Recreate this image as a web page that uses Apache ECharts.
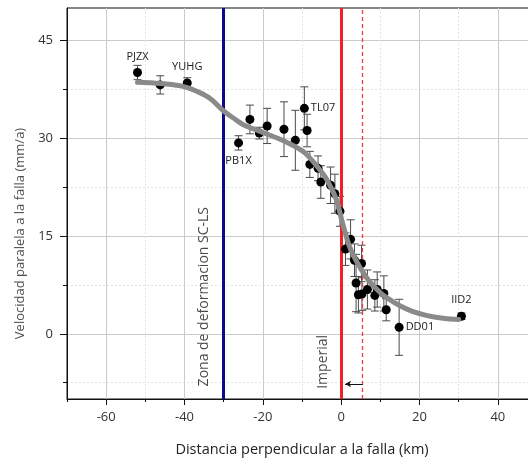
<!DOCTYPE html>
<html><head><meta charset="utf-8">
<script src="https://cdn.jsdelivr.net/npm/echarts@6/dist/echarts.min.js"></script>
<style>html,body{margin:0;padding:0;background:#fff}#c{width:528px;height:461px}</style>
</head><body><div id="c"></div>
<script>
// Station data: distance to fault (km), fault-parallel velocity (mm/a), 1-sigma error
const stationX   = [-52.0, -46.2, -39.3, -26.2, -23.3, -20.9, -18.9, -14.6, -11.7, -9.4, -8.7, -8.0, -5.9, -5.2, -2.7, -1.6, -0.3, 1.1, 2.4, 3.4, 5.2, 3.8, 4.4, 5.3, 6.7, 8.6, 9.2, 10.9, 11.5, 14.8, 30.7];
const stationV   = [40.1, 38.2, 38.5, 29.3, 32.9, 30.8, 31.9, 31.4, 29.7, 34.6, 31.2, 26.0, 25.4, 23.3, 22.8, 21.5, 18.8, 13.0, 14.5, 11.3, 10.8, 7.8, 6.0, 6.1, 6.8, 5.9, 6.8, 6.2, 3.7, 1.0, 2.7];
const stationErr = [1.1, 1.4, 0.8, 1.1, 2.2, 0.9, 2.7, 4.2, 4.6, 3.3, 2.5, 2.0, 1.9, 2.5, 2.8, 3.0, 2.3, 2.5, 3.0, 2.5, 2.8, 4.4, 2.8, 2.5, 3.0, 2.4, 2.7, 2.7, 1.7, 4.3, 0.5];
const stationName = ['PJZX', '', 'YUHG', 'PB1X', '', '', '', '', '', 'TL07', '', '', '', '', '', '', '', '', '', '', '', '', '', '', '', '', '', '', '', 'DD01', 'IID2'];
const labelPos   = {PJZX: 'top', YUHG: 'top', PB1X: 'bottom', TL07: 'right', DD01: 'right', IID2: 'top'};

// Fitted model curve
const curveX = [-52, -46, -40, -35, -33, -30, -27, -25, -20, -15, -10, -8, -6, -4, -2, -1, 0, 1, 2, 3, 5, 7, 10, 12, 15, 18, 22, 26, 30];
const curveV = [38.6, 38.4, 37.9, 36.7, 35.9, 34.2, 32.9, 32.1, 30.9, 29.7, 28.1, 27.0, 25.6, 24.0, 21.7, 20.2, 17.8, 15.6, 13.6, 12.2, 10.0, 8.2, 6.3, 5.4, 4.3, 3.5, 2.8, 2.4, 2.2];

// Axis ticks
const xMajorTicks = [-60, -40, -20, 0, 20, 40];
const xMinorTicks = [-70, -50, -30, -10, 10, 30, 50];
const yMajorTicks = [0, 15, 30, 45];
const yMinorTicks = [-7.5, 7.5, 22.5, 37.5];

// Reference lines
const zoneX = -30;       // SC-LS deformation zone
const faultX = 0;        // Imperial fault
const shiftedFaultX = 5.5;
const arrowFromTo = [5.5, 1.0];
const arrowV = -7.7;

// In-plot annotations [x, v, text]
const annotations = [
  [-35.0, 5.7, 'Zona de deformacion SC-LS'],
  [-4.6, -4.3, 'Imperial']
];
// Axis titles
const xTitle = 'Distancia perpendicular a la falla (km)';
const yTitle = 'Velocidad paralela a la falla (mm/a)';
const yTitleAnchor = [-82, 15.4];

const FONT = 'Open Sans';
const chart = echarts.init(document.getElementById('c'));

const lines = [];
lines.push({xAxis: zoneX, lineStyle: {color: '#0a0a8c', width: 3, type: 'solid'}});
lines.push({xAxis: faultX, lineStyle: {color: '#ec2227', width: 3, type: 'solid'}});
lines.push({xAxis: shiftedFaultX, lineStyle: {color: '#f03a3f', width: 1.3, type: [4, 3]}});
lines.push([
  {coord: [arrowFromTo[0], arrowV], symbol: 'none', lineStyle: {color: '#111', width: 1, type: 'solid'}},
  {coord: [arrowFromTo[1], arrowV], symbol: 'arrow', symbolSize: [5, 6]}
]);

const baseX = {type: 'value', min: -70, max: 50, position: 'bottom'};
const baseY = {type: 'value', min: -10, max: 50, position: 'left'};

chart.setOption({
  animation: false,
  backgroundColor: '#fff',
  grid: {left: 67, width: 470, top: 8, height: 391, outerBoundsMode: 'none', containLabel: false,
         show: true, borderColor: '#111', borderWidth: 1, backgroundColor: 'transparent'},
  xAxis: [
    Object.assign({}, baseX, {
      name: xTitle, nameLocation: 'middle', nameGap: 43,
      nameTextStyle: {fontFamily: FONT, fontSize: 14.5, color: '#222'},
      axisLine: {show: true, onZero: false, lineStyle: {color: '#111', width: 1}},
      axisTick: {show: true, inside: false, length: 6, customValues: xMajorTicks, lineStyle: {color: '#111'}},
      axisLabel: {show: true, customValues: xMajorTicks, margin: 12, fontFamily: FONT, fontSize: 13, color: '#333'},
      splitLine: {show: true, lineStyle: {color: '#cbcbcb', width: 1, type: 'solid'}}
    }),
    Object.assign({}, baseX, {
      axisLine: {show: false, onZero: false},
      axisTick: {show: true, inside: false, length: 3, customValues: xMinorTicks, lineStyle: {color: '#111'}},
      axisLabel: {show: false},
      splitLine: {show: true, lineStyle: {color: '#e4e4e4', width: 1, type: [2, 2]}}
    })
  ],
  yAxis: [
    Object.assign({}, baseY, {
      axisLine: {show: true, onZero: false, lineStyle: {color: '#111', width: 1}},
      axisTick: {show: true, inside: false, length: 7, customValues: yMajorTicks, lineStyle: {color: '#111'}},
      axisLabel: {show: true, customValues: yMajorTicks, margin: 14, fontFamily: FONT, fontSize: 13, color: '#333'},
      splitLine: {show: true, lineStyle: {color: '#cbcbcb', width: 1, type: 'solid'}}
    }),
    Object.assign({}, baseY, {
      axisLine: {show: false, onZero: false},
      axisTick: {show: true, inside: false, length: 4, customValues: yMinorTicks, lineStyle: {color: '#111'}},
      axisLabel: {show: false},
      splitLine: {show: true, lineStyle: {color: '#e4e4e4', width: 1, type: [2, 2]}}
    })
  ],
  series: [
    {
      type: 'line', data: [], silent: true, z: 3,
      markLine: {silent: true, symbol: 'none', label: {show: false}, animation: false, data: lines}
    },
    {
      type: 'custom', z: 4, silent: true,
      data: stationX.map((x, i) => [x, stationV[i] - stationErr[i], stationV[i] + stationErr[i]]),
      encode: {x: 0, y: [1, 2]},
      renderItem: function (params, api) {
        const x = api.value(0);
        const p1 = api.coord([x, api.value(1)]);
        const p2 = api.coord([x, api.value(2)]);
        const w = 4;
        const st = {stroke: '#4a4a4a', lineWidth: 1};
        return {type: 'group', children: [
          {type: 'line', shape: {x1: p1[0], y1: p1[1], x2: p2[0], y2: p2[1]}, style: st},
          {type: 'line', shape: {x1: p1[0] - w, y1: p1[1], x2: p1[0] + w, y2: p1[1]}, style: st},
          {type: 'line', shape: {x1: p2[0] - w, y1: p2[1], x2: p2[0] + w, y2: p2[1]}, style: st}
        ]};
      }
    },
    {
      type: 'scatter', z: 5, symbol: 'circle', symbolSize: 9,
      itemStyle: {color: '#000', opacity: 1},
      data: stationX.map((x, i) => {
        const n = stationName[i];
        const item = {value: [x, stationV[i]], name: n};
        if (n) {
          const pos = labelPos[n];
          item.label = {show: true, formatter: n, position: pos,
            distance: pos === 'bottom' ? 8 : (pos === 'right' ? 2 : 6),
            fontFamily: FONT, fontSize: 11, color: '#222'};
        }
        return item;
      })
    },
    {
      type: 'line', z: 6, smooth: 0.4, symbol: 'none', silent: true,
      lineStyle: {color: '#8a8a8a', width: 5, cap: 'round'},
      data: curveX.map((x, i) => [x, curveV[i]])
    },
    {
      type: 'scatter', z: 7, symbolSize: 0, silent: true,
      data: annotations.map(a => ({value: [a[0], a[1]], name: a[2]})),
      label: {show: true, position: 'inside', rotate: 90, formatter: '{b}', fontFamily: FONT, fontSize: 14, color: '#1a1a1a'}
    },
    {
      type: 'scatter', z: 7, symbolSize: 0, silent: true, clip: false,
      data: [{value: yTitleAnchor, name: yTitle}],
      label: {show: true, position: 'inside', rotate: 90, formatter: '{b}', fontFamily: FONT, fontSize: 13, color: '#222'}
    }
  ]
});
</script></body></html>
